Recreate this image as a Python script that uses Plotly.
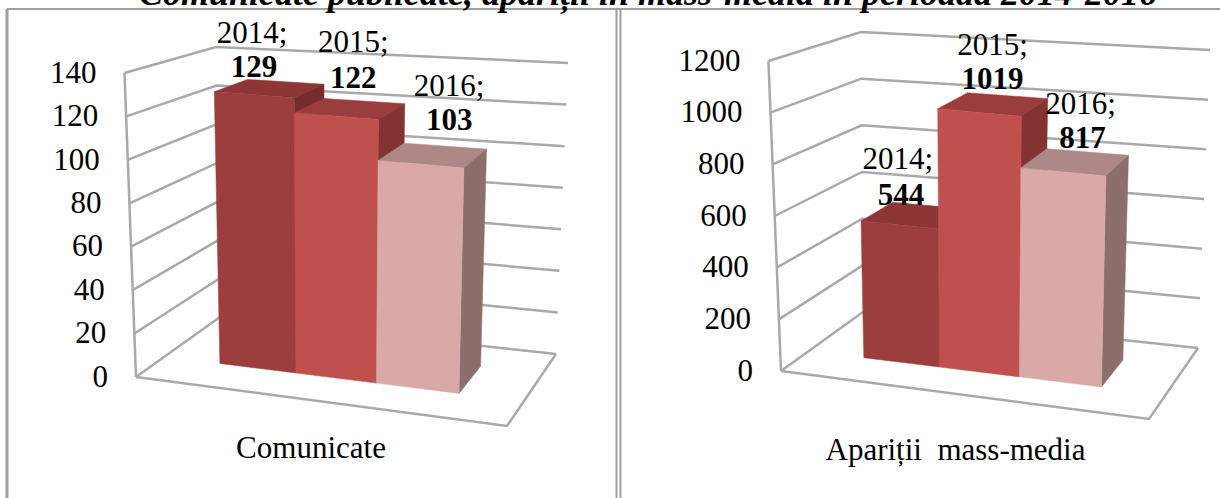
import plotly.graph_objects as go

# ---- data ----
TITLE = "Comunicate publicate, apariții în mass-media în perioada 2014-2016"
YEARS = ["2014", "2015", "2016"]
COMUNICATE = [129, 122, 103]
APARITII = [544, 1019, 817]
TICKS_LEFT = [0, 20, 40, 60, 80, 100, 120, 140]
TICKS_RIGHT = [0, 200, 400, 600, 800, 1000, 1200]
CATEGORY_LEFT = "Comunicate"
CATEGORY_RIGHT = "Apariții\u00a0 mass-media"

# ---- styles / geometry ----
FONT = "Liberation Serif"
GRID = "#A9A9A9"
BORDER = "#A0A0A0"
FRONT = ["#9C3E3E", "#C0504D", "#D9A9A8"]
TOP = ["#8E3636", "#9A3D3C", "#AE8886"]
SIDE = ["#742C2C", "#823332", "#8C6E6D"]
U_EDGES = [0.154, 0.366, 0.59, 0.82]
D_FRONT, D_BACK = 0.34, 0.73

PANEL_L = dict(
    flb=(136, 377), flt=(124.5, 73), blb=(220, 317), blt=(216, 47),
    frb=(507, 426), frt=(516, 107), brb=(556, 354), brt=(568, 63),
    cat=(311, 450),
    offs=[((-18, -53), (-16, -19)), ((3, -64), (3, -28)), ((16, -67), (16, -33))],
)
PANEL_R = dict(
    flb=(781, 371), flt=(768.4, 61), blb=(863, 312), blt=(861, 32),
    frb=(1149, 419), frt=(1158, 100), brb=(1198, 348), brt=(1210, 50),
    cat=(955.5, 452),
    offs=[((-17, -54), (-14, -18)), ((-1, -57), (-1, -23)), ((5, -56), (7, -22))],
)


def project(p, u, d, h):
    def lerp(a, b, t):
        return (a[0] + (b[0] - a[0]) * t, a[1] + (b[1] - a[1]) * t)
    bottom = lerp(lerp(p["flb"], p["frb"], u), lerp(p["blb"], p["brb"], u), d)
    top = lerp(lerp(p["flt"], p["frt"], u), lerp(p["blt"], p["brt"], u), d)
    return lerp(bottom, top, h)


fig = go.Figure()


def poly(pts, color):
    xs = [q[0] for q in pts] + [pts[0][0]]
    ys = [q[1] for q in pts] + [pts[0][1]]
    fig.add_trace(go.Scatter(x=xs, y=ys, mode="lines", fill="toself", fillcolor=color,
                             line=dict(color=color, width=0.5), hoverinfo="skip", showlegend=False))


def path(pts, color=GRID, width=2.5):
    fig.add_trace(go.Scatter(x=[q[0] for q in pts], y=[q[1] for q in pts], mode="lines",
                             line=dict(color=color, width=width), hoverinfo="skip", showlegend=False))


def text(x, y, s, size=31, bold=False, pos="middle center"):
    t = f"<b>{s}</b>" if bold else s
    fig.add_trace(go.Scatter(x=[x], y=[y], mode="text", text=[t], textposition=pos,
                             textfont=dict(family=FONT, size=size, color="#000000"),
                             hoverinfo="skip", showlegend=False, cliponaxis=False))


def panel(p, values, ticks, category):
    vmax = ticks[-1]
    for tv in ticks:
        h = tv / vmax
        path([project(p, 0, 0, h), project(p, 0, 1, h), project(p, 1, 1, h)])
    path([project(p, 0, 0, 0), project(p, 0, 0, 1)])
    path([project(p, 0, 0, 0), project(p, 1, 0, 0), project(p, 1, 1, 0)])

    for tv in ticks:
        x, y = project(p, 0, 0, tv / vmax)
        text(x - 28, y + 2, str(tv), pos="middle left")

    for i, v in enumerate(values):
        u0, u1 = U_EDGES[i], U_EDGES[i + 1]
        h = v / vmax
        poly([project(p, u0, D_FRONT, h), project(p, u0, D_BACK, h),
              project(p, u1, D_BACK, h), project(p, u1, D_FRONT, h)], TOP[i])
        poly([project(p, u1, D_FRONT, 0), project(p, u1, D_BACK, 0),
              project(p, u1, D_BACK, h), project(p, u1, D_FRONT, h)], SIDE[i])
        poly([project(p, u0, D_FRONT, 0), project(p, u1, D_FRONT, 0),
              project(p, u1, D_FRONT, h), project(p, u0, D_FRONT, h)], FRONT[i])

    for i, v in enumerate(values):
        u = (U_EDGES[i] + U_EDGES[i + 1]) / 2
        x, y = project(p, u, (D_FRONT + D_BACK) / 2, v / vmax)
        (a, b) = p["offs"][i]
        text(x + a[0], y + a[1], f"{YEARS[i]};")
        text(x + b[0], y + b[1], str(v), bold=True)

    text(p["cat"][0], p["cat"][1], category)


panel(PANEL_L, COMUNICATE, TICKS_LEFT, CATEGORY_LEFT)
panel(PANEL_R, APARITII, TICKS_RIGHT, CATEGORY_RIGHT)

borders = [
    (7, 498, 7, 9, 3), (7, 9, 1220, 9, 2), (616.5, 9, 616.5, 498, 2), (620.5, 9, 620.5, 498, 2),
]
shapes = [dict(type="line", xref="x", yref="y", x0=a, y0=b, x1=c, y1=d,
               line=dict(color=BORDER, width=w), layer="below") for a, b, c, d, w in borders]

fig.update_layout(
    width=1220, height=498, margin=dict(l=0, r=0, t=0, b=0),
    paper_bgcolor="white", plot_bgcolor="white", showlegend=False, shapes=shapes,
    xaxis=dict(range=[0, 1220], visible=False, fixedrange=True),
    yaxis=dict(range=[498, 0], visible=False, fixedrange=True),
    annotations=[dict(x=648, y=15, xref="x", yref="y", xanchor="center", yanchor="bottom",
                      text=f"<b><i>{TITLE}</i></b>", showarrow=False, borderpad=0,
                      font=dict(family=FONT, size=36, color="#000000"))],
)
fig.write_html("out.html", config=dict(displayModeBar=False), default_width="1220px", default_height="498px",
               post_script="document.body.style.margin='0';document.body.style.overflow='hidden';")
